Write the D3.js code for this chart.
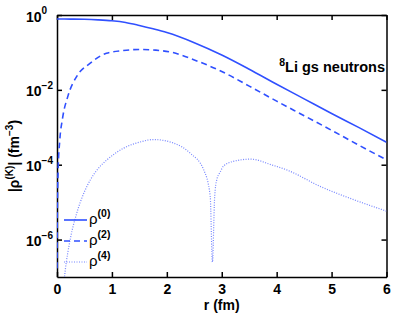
<!DOCTYPE html>
<html>
<head>
<meta charset="utf-8">
<script src="https://cdn.jsdelivr.net/npm/d3@7"></script>
<style>
  body { margin: 0; background: #fff; }
  svg { display: block; }
  text { font-family: "Liberation Sans", Arial, sans-serif; font-weight: bold; }
</style>
</head>
<body>
<div id="chart"></div>
<script>
// r (fm) grid and |rho^(K)| values (fm^-3)
var r0 = [0, 0.25, 0.5, 0.75, 1, 1.25, 1.5, 1.75, 2, 2.5, 3, 3.5, 4, 4.5, 5, 5.5, 6];
var rho0 = [0.78, 0.776, 0.767, 0.741, 0.70, 0.631, 0.525, 0.427, 0.339, 0.182, 0.0851, 0.0355, 0.0141, 5.75e-3, 2.34e-3, 9.8e-4, 4.0e-4];

var r2 = [0.001, 0.005, 0.02, 0.05, 0.1, 0.2, 0.36, 0.6, 0.9, 1.2, 1.5, 1.8, 2.1, 2.5, 3, 3.5, 4, 4.5, 5, 5.5, 6];
var rho2 = [1.7e-7, 4.4e-6, 6.9e-5, 4.4e-4, 1.7e-3, 6.9e-3, 0.023, 0.051, 0.095, 0.112, 0.12, 0.115, 0.1, 0.063, 0.031, 0.0126, 5.0e-3, 2.04e-3, 8.3e-4, 3.3e-4, 1.35e-4];

var r4 = [0.1, 0.15, 0.24, 0.36, 0.5, 0.61, 0.75, 0.91, 1.21, 1.5, 1.76, 2.12, 2.43, 2.67, 2.79, 2.83, 2.87, 2.91, 2.97, 3.03, 3.21, 3.53, 3.9, 4.2, 4.8, 5.4, 6];
var rho4 = [3.0e-8, 1.5e-7, 1.0e-6, 5.1e-6, 1.9e-5, 4.0e-5, 7.9e-5, 1.35e-4, 2.75e-4, 4.0e-4, 4.7e-4, 3.8e-4, 2.0e-4, 7.4e-5, 1.45e-5, 2.5e-7, 1.3e-5, 4.0e-5, 6.3e-5, 9.1e-5, 1.23e-4, 1.41e-4, 1.0e-4, 7.1e-5, 2.6e-5, 1.17e-5, 5.75e-6];

var xTicks = [0, 1, 2, 3, 4, 5, 6];
var yTicks = [1, 1e-2, 1e-4, 1e-6];
var yExp = ['0', '\u22122', '\u22124', '\u22126'];
var legendNames = ['(0)', '(2)', '(4)'];

var width = 395;
var height = 314;
var padding = {top: 15, right: 8.5, bottom: 37, left: 57};

var blue = '#3050ff';

var xScale = d3.scaleLinear()
    .domain([0, 6])
    .range([padding.left, width - padding.right]);
var yScale = d3.scaleLog()
    .domain([1e-7, 1])
    .range([height - padding.bottom, padding.top]);

var svg = d3.select('#chart')
    .append('svg')
    .attr('width', width)
    .attr('height', height);

svg.append('defs').append('clipPath')
    .attr('id', 'plot')
    .append('rect')
    .attr('x', padding.left)
    .attr('y', padding.top)
    .attr('width', xScale(6) - xScale(0))
    .attr('height', yScale(1e-7) - yScale(1));

// axes, ticks pointing inward, mirrored on top/right
var xAxisB = d3.axisBottom(xScale).tickValues(xTicks).tickSizeInner(-5).tickSizeOuter(0).tickPadding(7).tickFormat(d3.format('d'));
var xAxisT = d3.axisTop(xScale).tickValues(xTicks).tickSizeInner(-5).tickSizeOuter(0).tickFormat('');
var yAxisL = d3.axisLeft(yScale).tickValues(yTicks).tickSizeInner(-5).tickSizeOuter(0).tickFormat('');
var yAxisR = d3.axisRight(yScale).tickValues(yTicks).tickSizeInner(-5).tickSizeOuter(0).tickFormat('');

var gxb = svg.append('g').attr('transform', 'translate(0,' + (height - padding.bottom) + ')').call(xAxisB);
svg.append('g').attr('transform', 'translate(0,' + padding.top + ')').call(xAxisT);
svg.append('g').attr('transform', 'translate(' + padding.left + ',0)').call(yAxisL);
svg.append('g').attr('transform', 'translate(' + (width - padding.right) + ',0)').call(yAxisR);

svg.selectAll('.domain, .tick line').attr('stroke', '#000').attr('stroke-width', 1.5);
gxb.selectAll('.tick text')
    .attr('font-size', 14)
    .attr('font-family', '"Liberation Sans", Arial, sans-serif')
    .attr('font-weight', 'bold')
    .attr('fill', '#000');

// y tick labels 10^n
var ylab = svg.append('g').selectAll('text')
    .data(yTicks)
    .enter()
    .append('text')
    .attr('x', 26)
    .attr('y', function (d) { return yScale(d) + 6.5; })
    .attr('font-size', 14);
ylab.append('tspan').text('10');
ylab.append('tspan')
    .attr('font-size', 10)
    .attr('dy', -7.5)
    .text(function (d, i) { return yExp[i]; });

// curves
var line = d3.line()
    .x(function (d) { return xScale(d[0]); })
    .y(function (d) { return yScale(d[1]); })
    .curve(d3.curveMonotoneX);

var series = [
    {r: r0, v: rho0, dash: null, w: 1.6, c: blue},
    {r: r2, v: rho2, dash: '6,4', w: 1.6, c: blue},
    {r: r4, v: rho4, dash: '1,1.5', w: 1.2, c: '#7585ff'}
];

svg.append('g')
    .attr('clip-path', 'url(#plot)')
    .selectAll('path')
    .data(series)
    .enter()
    .append('path')
    .attr('d', function (s) { return line(s.r.map(function (r, i) { return [r, s.v[i]]; })); })
    .attr('fill', 'none')
    .attr('stroke', function (s) { return s.c; })
    .attr('stroke-width', function (s) { return s.w; })
    .attr('stroke-dasharray', function (s) { return s.dash; });

// legend
var leg = svg.append('g').selectAll('g')
    .data(series)
    .enter()
    .append('g')
    .attr('transform', function (d, i) { return 'translate(64,' + (220 + i * 21) + ')'; });
leg.append('line')
    .attr('x1', 0).attr('x2', 23)
    .attr('stroke', function (s) { return s.c; })
    .attr('stroke-width', function (s) { return s.w; })
    .attr('stroke-dasharray', function (s) { return s.dash; });
var lt = leg.append('text')
    .attr('x', 25)
    .attr('y', 4)
    .attr('font-size', 15);
lt.append('tspan').attr('font-weight', 'normal').text('\u03c1');
lt.append('tspan').attr('font-size', 10.5).attr('dy', -7).text(function (d, i) { return legendNames[i]; });

// title
var title = svg.append('text')
    .attr('x', 385)
    .attr('y', 72)
    .attr('text-anchor', 'end')
    .attr('font-size', 14.5);
title.append('tspan').attr('font-size', 10.5).attr('dy', -6).text('8');
title.append('tspan').attr('dy', 6).text('Li gs neutrons');

// axis labels
svg.append('text')
    .attr('x', xScale(3))
    .attr('y', 310)
    .attr('text-anchor', 'middle')
    .attr('font-size', 14)
    .text('r (fm)');

var yl = svg.append('text')
    .attr('transform', 'translate(19,156) rotate(-90)')
    .attr('text-anchor', 'middle')
    .attr('font-size', 14);
yl.append('tspan').text('|\u03c1');
yl.append('tspan').attr('font-size', 10).attr('dy', -6.5).text('(K)');
yl.append('tspan').attr('dy', 6.5).text('| (fm');
yl.append('tspan').attr('font-size', 10).attr('dy', -6.5).text('\u22123');
yl.append('tspan').attr('dy', 6.5).text(')');
</script>
</body>
</html>
